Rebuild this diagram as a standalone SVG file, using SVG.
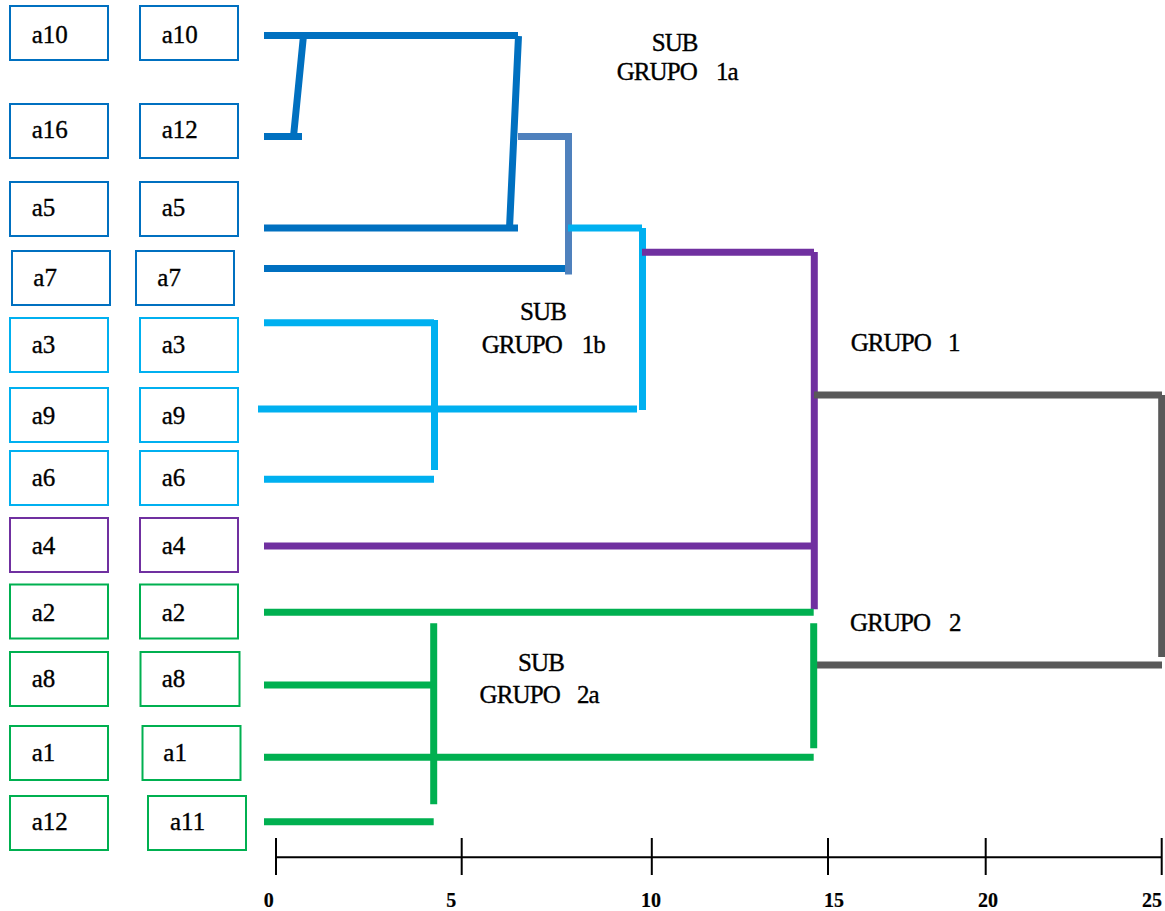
<svg xmlns="http://www.w3.org/2000/svg" width="1165" height="911" viewBox="0 0 1165 911">
<style>
.bx{fill:#fff;stroke-width:2}
.db{stroke:#0070C0}.lb{stroke:#00B0F0}.pu{stroke:#7030A0}.gr{stroke:#00B050}.st{stroke:#4F81BD}.gy{stroke:#595959}
text{font-family:'Liberation Serif','Times New Roman',serif;fill:#000;stroke:#000;stroke-width:0.35px}
.lbl{font-size:25px}
.grp{font-size:25px;letter-spacing:-0.9px}
.ax{font-size:20px;font-weight:bold;text-anchor:middle;stroke-width:0.2px}
.cn{fill:none;stroke-width:7;stroke-linecap:butt}
</style>
<rect width="1165" height="911" fill="#fff"/>
<g id="n-a10-1"><rect class="bx db" x="10" y="6" width="98" height="54"/><text class="lbl" x="31.7" y="43">a10</text></g>
<g id="n-a10-2"><rect class="bx db" x="140" y="6" width="98" height="54"/><text class="lbl" x="161.7" y="43">a10</text></g>
<g id="n-a16"><rect class="bx db" x="10" y="104" width="98" height="54"/><text class="lbl" x="31.7" y="138">a16</text></g>
<g id="n-a12-2"><rect class="bx db" x="140" y="104" width="98" height="54"/><text class="lbl" x="161.7" y="138">a12</text></g>
<g id="n-a5-1"><rect class="bx db" x="10" y="182" width="98" height="54"/><text class="lbl" x="31.7" y="215.5">a5</text></g>
<g id="n-a5-2"><rect class="bx db" x="140" y="182" width="98" height="54"/><text class="lbl" x="161.7" y="215.5">a5</text></g>
<g id="n-a7-1"><rect class="bx db" x="12" y="251" width="98" height="54"/><text class="lbl" x="33.3" y="286">a7</text></g>
<g id="n-a7-2"><rect class="bx db" x="136" y="251" width="98" height="54"/><text class="lbl" x="157.3" y="286">a7</text></g>
<g id="n-a3-1"><rect class="bx lb" x="10" y="318" width="98" height="54"/><text class="lbl" x="31.7" y="352.7">a3</text></g>
<g id="n-a3-2"><rect class="bx lb" x="140" y="318" width="98" height="54"/><text class="lbl" x="161.7" y="352.7">a3</text></g>
<g id="n-a9-1"><rect class="bx lb" x="10" y="388" width="98" height="54"/><text class="lbl" x="31.7" y="424">a9</text></g>
<g id="n-a9-2"><rect class="bx lb" x="140" y="388" width="98" height="54"/><text class="lbl" x="161.7" y="424">a9</text></g>
<g id="n-a6-1"><rect class="bx lb" x="10" y="451" width="98" height="54"/><text class="lbl" x="31.7" y="486">a6</text></g>
<g id="n-a6-2"><rect class="bx lb" x="140" y="451" width="98" height="54"/><text class="lbl" x="161.7" y="486">a6</text></g>
<g id="n-a4-1"><rect class="bx pu" x="10" y="518" width="98" height="54"/><text class="lbl" x="31.7" y="554">a4</text></g>
<g id="n-a4-2"><rect class="bx pu" x="140" y="518" width="98" height="54"/><text class="lbl" x="161.7" y="554">a4</text></g>
<g id="n-a2-1"><rect class="bx gr" x="10" y="584.5" width="98" height="54"/><text class="lbl" x="31.7" y="620.7">a2</text></g>
<g id="n-a2-2"><rect class="bx gr" x="140" y="584.5" width="98" height="54"/><text class="lbl" x="161.7" y="620.7">a2</text></g>
<g id="n-a8-1"><rect class="bx gr" x="10" y="652" width="98" height="54"/><text class="lbl" x="31.7" y="687.3">a8</text></g>
<g id="n-a8-2"><rect class="bx gr" x="140.5" y="652" width="99" height="54"/><text class="lbl" x="161.7" y="687.3">a8</text></g>
<g id="n-a1-1"><rect class="bx gr" x="10" y="726" width="98" height="54"/><text class="lbl" x="31.7" y="760.7">a1</text></g>
<g id="n-a1-2"><rect class="bx gr" x="142.5" y="726" width="98" height="54"/><text class="lbl" x="163.3" y="760.7">a1</text></g>
<g id="n-a12-1"><rect class="bx gr" x="10" y="796" width="98" height="54"/><text class="lbl" x="31.7" y="830">a12</text></g>
<g id="n-a11"><rect class="bx gr" x="148" y="796" width="98" height="54"/><text class="lbl" x="170" y="830">a11</text></g>

<g id="connectors" class="cn">
<path class="db" d="M264,35.5H518M264,136.5H302M303.5,35.5L293.5,136.5M518.5,36L509.5,228M264,228H518M264,268.5H565"/>
<path class="st" d="M518,136.5H568M568.5,133V274.5"/>
<path class="lb" d="M568,228H642M642.5,228V410M258,409H637M264,322.7H434M434.5,320V470M264,479.3H434"/>
<path class="pu" d="M642,252.3H814M814.3,252V609.3M264,546H814"/>
<path class="gy" d="M814,395H1162M1161.7,395V657M814,665H1162"/>
<path class="gr" d="M264,612.3H813.7M813.7,623.3V748.3M264,685H433.7M433.7,623.3V804.3M264,757.3H813.7M264,821.7H433.7"/>
</g>

<g id="labels">
<text class="grp" x="651.7" y="50.7">SUB</text>
<text class="grp" x="616.7" y="80">GRUPO <tspan x="716">1a</tspan></text>
<text class="grp" x="520" y="320">SUB</text>
<text class="grp" x="481.7" y="353.3">GRUPO <tspan x="581.7">1b</tspan></text>
<text class="grp" x="850.7" y="350.7">GRUPO <tspan x="948">1</tspan></text>
<text class="grp" x="850" y="631">GRUPO <tspan x="949">2</tspan></text>
<text class="grp" x="518" y="670.7">SUB</text>
<text class="grp" x="479.6" y="702.7">GRUPO <tspan x="577">2a</tspan></text>
</g>

<g id="axis" stroke="#000" stroke-width="2" fill="none">
<path d="M276,857.3H1162"/>
<path d="M276,838V875M461.7,838V875M651.8,838V875M828,838V875M985.7,838V875M1161.7,838V875"/>
</g>
<g id="axis-labels">
<text class="ax" x="268.7" y="907">0</text>
<text class="ax" x="451.3" y="907">5</text>
<text class="ax" x="651" y="907">10</text>
<text class="ax" x="834" y="907">15</text>
<text class="ax" x="988" y="907">20</text>
<text class="ax" x="1152" y="907">25</text>
</g>
</svg>
